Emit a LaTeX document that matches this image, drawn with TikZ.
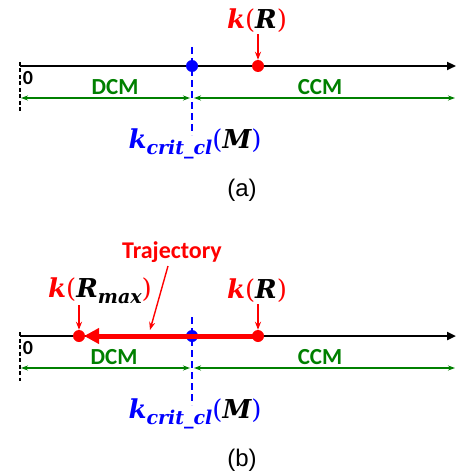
\documentclass[tikz,border=0pt]{standalone}
\usepackage{fontspec}
\setmainfont{Liberation Sans}
\newfontfamily\calfont{Carlito}
\newfontfamily\mathfnt{DejaVu Serif}
\usetikzlibrary{arrows.meta}
\definecolor{myred}{RGB}{255,0,0}
\definecolor{myblue}{RGB}{0,0,255}
\definecolor{mygreen}{RGB}{0,128,0}
\newcommand{\bi}{\bfseries\itshape}
\newcommand{\rg}{\mdseries\upshape}
\newcommand{\subtxt}[1]{\raisebox{-0.25em}{\fontsize{19}{19}\selectfont\bi #1}}
\begin{document}
\begin{tikzpicture}[x=1pt,y=-1pt,
  axisline/.style={line width=2.4pt,-{Triangle[length=9pt,width=8pt]}},
  tickline/.style={line width=1.3pt,dash pattern=on 4pt off 2.5pt},
  critline/.style={myblue,line width=2.2pt,dash pattern=on 7pt off 4pt},
  dot/.style={circle,inner sep=0pt,minimum size=12pt},
  region/.style={mygreen,line width=1.3pt,{Stealth[length=7pt,width=5pt]}-{Stealth[length=7pt,width=5pt]}},
  regtext/.style={mygreen,font=\calfont\bfseries\fontsize{23}{23}\selectfont},
  zerotext/.style={font=\calfont\bfseries\fontsize{20}{20}\selectfont,inner sep=0pt},
  mlabel/.style={font=\mathfnt\fontsize{26}{26}\selectfont,inner sep=0pt},
  pointer/.style={myred,line width=1.4pt,-{Stealth[length=8pt,width=6pt]}},
  captext/.style={font=\fontsize{24}{24}\selectfont,inner sep=0pt},
  trajline/.style={myred,line width=5pt,-{Triangle[length=15pt,width=15pt]}}
]
\useasboundingbox (0,0) rectangle (456,476);
% ---------------- panel (a)
\coordinate (a0) at (20,66);
\coordinate (aend) at (456,66);
\coordinate (atk1) at (20,62);
\coordinate (atk2) at (20,111);
\coordinate (acr1) at (192,47);
\coordinate (acr2) at (192,135);
\coordinate (adl) at (21,98);
\coordinate (adm) at (190,98);
\coordinate (acm) at (194,98);
\coordinate (acr) at (455,98);
\draw[tickline] (atk1) -- (atk2);
\draw[axisline] (a0) -- (aend);
\draw[critline] (acr1) -- (acr2);
\node[dot,fill=myblue] (bluea) at (192,66) {};
\node[dot,fill=myred] (reda) at (258,66) {};
\node[zerotext] (zeroa) at (28,78) {0};
\draw[region] (adl) -- (adm);
\draw[region] (acm) -- (acr);
\node[regtext] (dcma) at (115,87) {DCM};
\node[regtext] (ccma) at (320,87) {CCM};
\node[mlabel] (kra) at (257,21) {\color{myred}\bi k\rg(\color{black}\bi R\color{myred}\rg)};
\draw[pointer] (reda |- kra.south) ++(0,1) -- (reda.north);
\node[mlabel] (kcra) at (195,144) {\color{myblue}\bi k\subtxt{crit\_cl}\rg(\color{black}\bi M\color{myblue}\rg)};
\node[captext] (capa) at (242,190) {(a)};
% ---------------- panel (b)
\begin{scope}[shift={(0,270)}]
\coordinate (b0) at (20,66);
\coordinate (bend) at (456,66);
\coordinate (btk1) at (20,62);
\coordinate (btk2) at (20,111);
\coordinate (bcr1) at (192,47);
\coordinate (bcr2) at (192,135);
\coordinate (bdl) at (21,98);
\coordinate (bdm) at (190,98);
\coordinate (bcm) at (194,98);
\coordinate (bcr) at (455,98);
\coordinate (btip) at (84,66);
\draw[tickline] (btk1) -- (btk2);
\draw[axisline] (b0) -- (bend);
\draw[critline] (bcr1) -- (bcr2);
\node[dot,fill=myblue] (blueb) at (192,66) {};
\node[dot,fill=myred] (redb) at (258,66) {};
\node[dot,fill=myred] (redmaxb) at (79,66) {};
\draw[trajline] (redb.center) -- (btip);
\node[zerotext] (zerob) at (28,78) {0};
\draw[region] (bdl) -- (bdm);
\draw[region] (bcm) -- (bcr);
\node[regtext] (dcmb) at (114,87) {DCM};
\node[regtext] (ccmb) at (320,87) {CCM};
\node[mlabel] (krb) at (257,21) {\color{myred}\bi k\rg(\color{black}\bi R\color{myred}\rg)};
\draw[pointer] (redb |- krb.south) ++(0,1) -- (redb.north);
\node[mlabel] (krmaxb) at (100,21) {\color{myred}\bi k\rg(\color{black}\bi R\subtxt{max}\color{myred}\rg)};
\draw[pointer] (redmaxb |- krmaxb.south) ++(0,1) -- (redmaxb.north);
\node[regtext,myred,font=\calfont\bfseries\fontsize{24}{24}\selectfont] (trajb) at (172,-18) {Trajectory};
\coordinate (trs) at (168,-4);
\coordinate (tre) at (150,60);
\draw[pointer] (trs) -- (tre);
\node[mlabel] (kcrb) at (195,144) {\color{myblue}\bi k\subtxt{crit\_cl}\rg(\color{black}\bi M\color{myblue}\rg)};
\node[captext] (capb) at (242,190) {(b)};
\end{scope}
\end{tikzpicture}
\end{document}
